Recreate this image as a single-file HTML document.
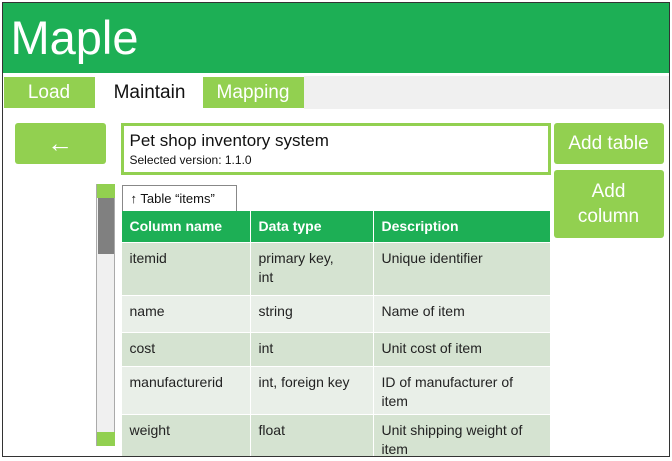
<!DOCTYPE html>
<html><head><meta charset="utf-8"><style>
*{margin:0;padding:0;box-sizing:border-box}
body{width:672px;height:461px;background:#fff;position:relative;overflow:hidden;font-family:"Liberation Sans",sans-serif}
.a{position:absolute}
.frame{left:2px;top:2px;width:668px;height:455px;border:1.5px solid #333;overflow:hidden}
.in{position:absolute;left:-1.5px;top:-1.5px;width:670px;height:460px}
.g{background:#92D050;color:#fff}
.cell{position:absolute;font-size:14px;color:#222;padding:6px 8px;line-height:19px}
.hd{background:#1DAF55;color:#fff;font-weight:bold;font-size:14px}
</style></head><body>
<div class="a frame"><div class="in">
<div class="a" style="left:0;top:0;width:670px;height:71px;background:#1DAF55"></div>
<div class="a" style="left:9px;top:6px;font-size:47px;color:#fff;line-height:60px">Maple</div>
<div class="a" style="left:302px;top:74px;width:368px;height:33px;background:#f0f0f0"></div>
<div class="a g" style="left:2px;top:75px;width:91px;height:31px;font-size:19px;line-height:31px;text-align:center">Load</div>
<div class="a" style="left:94px;top:75px;width:108px;height:31px;font-size:19px;line-height:31px;text-align:center;color:#111">Maintain</div>
<div class="a g" style="left:201px;top:75px;width:101px;height:31px;font-size:19px;line-height:31px;text-align:center">Mapping</div>
<div class="a g" style="left:13px;top:121px;width:91px;height:41px;border-radius:3px;font-size:26px;font-weight:bold;line-height:40px;text-align:center">←</div>
<div class="a" style="left:119px;top:121px;width:430px;height:52px;border:3px solid #92D050"></div>
<div class="a" style="left:128px;top:129px;font-size:17px;color:#111">Pet shop inventory system</div>
<div class="a" style="left:128px;top:151px;font-size:12px;color:#111">Selected version: 1.1.0</div>
<div class="a g" style="left:552px;top:121px;width:110px;height:41px;border-radius:3px;font-size:19px;line-height:41px;text-align:center">Add table</div>
<div class="a g" style="left:552px;top:168px;width:110px;height:68px;border-radius:3px;font-size:19px;line-height:25px;text-align:center;padding-top:9px">Add<br>column</div>
<div class="a" style="left:94px;top:182px;width:19px;height:262px;background:#f0f0f0;border:1px solid #aaa"></div>
<div class="a" style="left:95px;top:182px;width:18px;height:14px;background:#92D050"></div>
<div class="a" style="left:96px;top:196px;width:16px;height:56px;background:#808080"></div>
<div class="a" style="left:95px;top:430px;width:18px;height:14px;background:#92D050"></div>
<div class="a" style="left:120px;top:183px;width:115px;height:27px;border:1px solid #888;border-bottom:none;font-size:13px;line-height:26px;padding-left:8px;color:#111">↑ Table “items”</div>
<div class="a" style="left:120px;top:209px;width:428px;height:260px;background:#fff"></div>
<div class="cell hd" style="left:120px;top:209px;width:128px;height:31px">Column name</div>
<div class="cell hd" style="left:249px;top:209px;width:122px;height:31px">Data type</div>
<div class="cell hd" style="left:372px;top:209px;width:176px;height:31px">Description</div>

<div class="cell" style="left:120px;top:241px;width:128px;height:52px;background:#D5E3D1">itemid</div>
<div class="cell" style="left:249px;top:241px;width:122px;height:52px;background:#D5E3D1">primary key,<br>int</div>
<div class="cell" style="left:372px;top:241px;width:176px;height:52px;background:#D5E3D1">Unique identifier</div>

<div class="cell" style="left:120px;top:294px;width:128px;height:36px;background:#E9EFE8">name</div>
<div class="cell" style="left:249px;top:294px;width:122px;height:36px;background:#E9EFE8">string</div>
<div class="cell" style="left:372px;top:294px;width:176px;height:36px;background:#E9EFE8">Name of item</div>

<div class="cell" style="left:120px;top:331px;width:128px;height:33px;background:#D5E3D1">cost</div>
<div class="cell" style="left:249px;top:331px;width:122px;height:33px;background:#D5E3D1">int</div>
<div class="cell" style="left:372px;top:331px;width:176px;height:33px;background:#D5E3D1">Unit cost of item</div>

<div class="cell" style="left:120px;top:365px;width:128px;height:47px;background:#E9EFE8">manufacturerid</div>
<div class="cell" style="left:249px;top:365px;width:122px;height:47px;background:#E9EFE8">int, foreign key</div>
<div class="cell" style="left:372px;top:365px;width:176px;height:47px;background:#E9EFE8">ID of manufacturer of item</div>

<div class="cell" style="left:120px;top:413px;width:128px;height:50px;background:#D5E3D1">weight</div>
<div class="cell" style="left:249px;top:413px;width:122px;height:50px;background:#D5E3D1">float</div>
<div class="cell" style="left:372px;top:413px;width:176px;height:50px;background:#D5E3D1">Unit shipping weight of item</div>
</div></div>
</body></html>
